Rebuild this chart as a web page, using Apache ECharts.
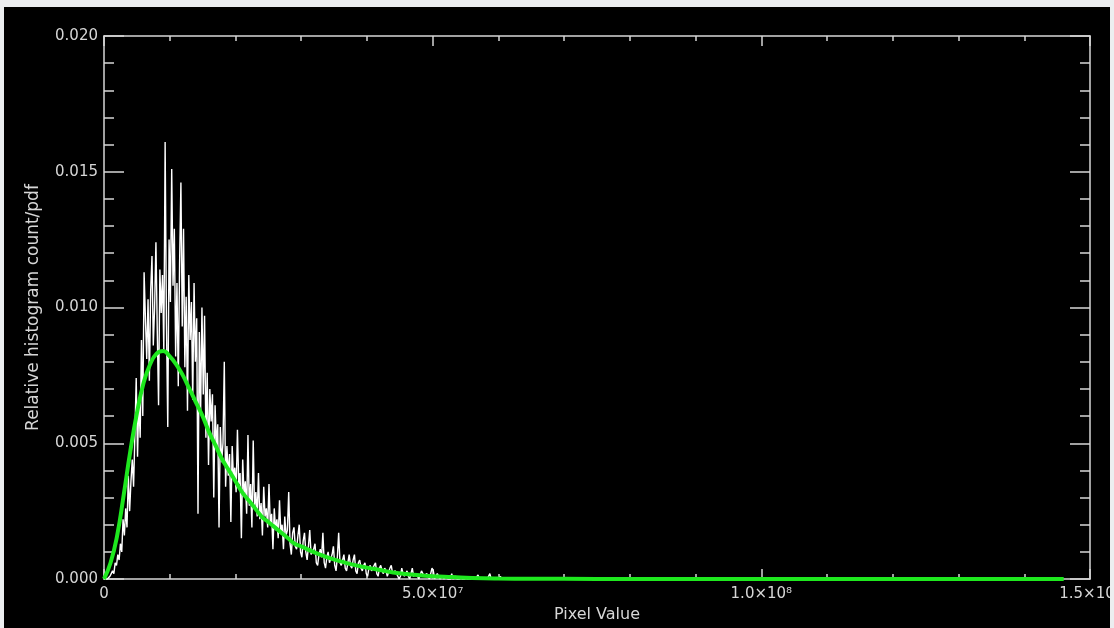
<!DOCTYPE html>
<html>
<head>
<meta charset="utf-8">
<title>Relative histogram / pdf</title>
<script src="https://cdn.jsdelivr.net/npm/echarts@6/dist/echarts.min.js"></script>
<style>
    html, body { margin: 0; padding: 0; background: #eceef0; }
    #chart { position: absolute; left: 4px; top: 7px; width: 1106px; height: 621px; background: #000; }
</style>
</head>
<body>
<div id="chart"></div>
<script>
/* ========== 数据 ========== */

// 直方图: 每个 bin 宽 2e5, 数值为相对计数
const binWidth = 2e5;
const histY = [
    0, 0, 0, 0.00005, 0.0001, 0.0002, 0.0003, 0.0002, 0.0006, 0.0005,
    0.0009, 0.0007, 0.0013, 0.0010, 0.0022, 0.0016, 0.0026, 0.0019, 0.0038, 0.0025,
    0.0036, 0.0044, 0.0034, 0.0053, 0.0074, 0.0045, 0.0066, 0.0052, 0.0088, 0.0060,
    0.0113, 0.0096, 0.0081, 0.0103, 0.0073, 0.0106, 0.0119, 0.0086, 0.0100, 0.0124,
    0.0092, 0.0064, 0.0114, 0.0098, 0.0112, 0.0084, 0.0161, 0.0094, 0.0056, 0.0125,
    0.0102, 0.0151, 0.0108, 0.0129, 0.0082, 0.0109, 0.0071, 0.0116, 0.0146, 0.0093,
    0.0129, 0.0078, 0.0104, 0.0062, 0.0112, 0.0088, 0.0102, 0.0066, 0.0109, 0.0080,
    0.0096, 0.0024, 0.0091, 0.0061, 0.0100, 0.0068, 0.0097, 0.0052, 0.0076, 0.0042,
    0.0070, 0.0058, 0.0068, 0.0030, 0.0064, 0.0049, 0.0057, 0.0019, 0.0056, 0.0043,
    0.0050, 0.0080, 0.0034, 0.0049, 0.0038, 0.0046, 0.0021, 0.0049, 0.0037, 0.0041,
    0.0032, 0.0055, 0.0035, 0.0039, 0.0015, 0.0044, 0.0031, 0.0036, 0.0024, 0.0053,
    0.0027, 0.0035, 0.0019, 0.0051, 0.0026, 0.0032, 0.0023, 0.0039, 0.0022, 0.0028,
    0.0016, 0.0034, 0.0023, 0.0026, 0.0019, 0.0035, 0.0020, 0.0024, 0.0011, 0.0026,
    0.0018, 0.0022, 0.0015, 0.0029, 0.0017, 0.0020, 0.0011, 0.0023, 0.0016, 0.0018,
    0.0032, 0.0013, 0.0009, 0.0017, 0.0019, 0.0012, 0.0011, 0.0016, 0.0020, 0.0010,
    0.0008, 0.0014, 0.0017, 0.0010, 0.0007, 0.0012, 0.0018, 0.0009, 0.0009, 0.0011,
    0.0013, 0.0006, 0.0005, 0.0009, 0.0011, 0.0008, 0.0017, 0.0006, 0.0004, 0.0008,
    0.0010, 0.0006, 0.0006, 0.0009, 0.0012, 0.0005, 0.0003, 0.0008, 0.0017, 0.0006,
    0.0005, 0.0007, 0.0009, 0.0004, 0.0003, 0.0006, 0.0009, 0.0005, 0.0004, 0.0007,
    0.0009, 0.0003, 0.0002, 0.0006, 0.0007, 0.0004, 0.0003, 0.0005, 0.0006, 0.0002,
    0.0001, 0.0004, 0.0005, 0.0003, 0.0003, 0.0005, 0.0006, 0.0002, 0.0001, 0.0004,
    0.0005, 0.0003, 0.0002, 0.0004, 0.0003, 0.0001, 0.0001, 0.0004, 0.0005, 0.0002,
    0.0002, 0.0003, 0.0002, 0.0001, 0, 0.0001, 0.0004, 0.0002, 0.0001, 0.0002,
    0.0003, 0.0001, 0, 0.0002, 0.0004, 0.0001, 0.0001, 0.0002, 0.0002, 0,
    0, 0.0003, 0.0002, 0.0001, 0.0001, 0.0002, 0.0001, 0, 0, 0.0004,
    0.0003, 0, 0, 0.0002, 0.0001, 0, 0, 0.0001, 0, 0,
    0.0001, 0, 0, 0, 0.0002, 0, 0, 0.0001, 0, 0,
    0, 0.0001, 0, 0, 0, 0.0001, 0, 0, 0, 0,
    0, 0, 0, 0, 0.00015, 0, 0, 0, 0, 0,
    0, 0, 0, 0.0002, 0, 0, 0, 0, 0, 0,
    0, 0.0001, 0, 0, 0, 0, 0, 0, 0, 0,
    0, 0, 0, 0, 0, 0, 0, 0, 0, 0
];

// 拟合的 pdf 曲线 (绿色)
const pdfX = [
    0, 1e6, 2e6, 3e6, 4e6, 5e6, 6e6, 7e6, 8e6, 9e6,
    10e6, 11e6, 12e6, 13e6, 14e6, 15e6, 16e6, 17e6, 18e6, 19e6,
    20e6, 21e6, 22e6, 23e6, 24e6, 25e6, 26e6, 27e6, 28e6, 29e6,
    30e6, 32e6, 34e6, 36e6, 38e6, 40e6, 42e6, 44e6, 46e6, 48e6,
    50e6, 53e6, 56e6, 60e6, 65e6, 70e6, 80e6, 100e6, 146e6
];
const pdfY = [
    0, 0.0006, 0.0016, 0.0031, 0.0047, 0.0061, 0.0072, 0.0079, 0.0083, 0.0084,
    0.0082, 0.0079, 0.0075, 0.0070, 0.0065, 0.0060, 0.0054, 0.0049, 0.0044, 0.0040,
    0.0036, 0.0032, 0.0029, 0.0026, 0.0023, 0.0021, 0.0019, 0.0017, 0.0015, 0.0013,
    0.0012, 0.00098, 0.00080, 0.00065, 0.00052, 0.00042, 0.00033, 0.00024, 0.00018, 0.00014,
    0.00010, 0.00007, 0.00004, 0.00002, 0.00001, 0.000005, 0, 0, 0
];

// 坐标轴刻度标签
const xTickValues = [0, 5e7, 1e8, 1.5e8];
const xTickLabels = ["0", "5.0×10⁷", "1.0×10⁸", "1.5×10⁸"];

/* ========== 图表 ========== */

const FG = "#d6d6d6";
const FONT = "DejaVu Sans";

const chart = echarts.init(document.getElementById("chart"));

const histData = histY.map((v, i) => [(i + 0.5) * binWidth, v]);
const pdfData = pdfX.map((x, i) => [x, pdfY[i]]);

// 主刻度 / 次刻度各用一根轴, 刻度全部朝内
function makeAxis(kind, pos, interval, tickLen, showLine) {
    const range = kind === "x" ? { min: 0, max: 1.5e8 } : { min: 0, max: 0.02 };
    return Object.assign({
        type: "value", position: pos, interval: interval,
        axisLine: { show: showLine, onZero: false, lineStyle: { color: FG, width: 1.5 } },
        axisTick: { show: true, inside: true, length: tickLen, lineStyle: { color: FG, width: 1.5 } },
        axisLabel: { show: false },
        splitLine: { show: false },
    }, range);
}

const xMain = makeAxis("x", "bottom", 5e7, 10, true);
Object.assign(xMain, {
    name: "Pixel Value",
    nameLocation: "middle",
    nameGap: 25,
    nameTextStyle: { color: FG, fontFamily: FONT, fontSize: 16 },
    axisLabel: {
        show: true, margin: 8, color: FG, fontFamily: FONT, fontSize: 15,
        showMinLabel: true, showMaxLabel: true,
        formatter: (v) => {
            const k = xTickValues.indexOf(v);
            return k >= 0 ? xTickLabels[k] : "";
        },
    },
});

const yMain = makeAxis("y", "left", 0.005, 20, true);
Object.assign(yMain, {
    name: "Relative histogram count/pdf",
    nameLocation: "middle",
    nameGap: 62,
    nameTextStyle: { color: FG, fontFamily: FONT, fontSize: 17 },
    axisLabel: {
        show: true, margin: 6, color: FG, fontFamily: FONT, fontSize: 15,
        formatter: (v) => v.toFixed(3),
    },
});

chart.setOption({
    backgroundColor: "#000",
    animation: false,
    grid: { left: 100, right: 20, top: 29, bottom: 49, outerBoundsMode: "none" },
    xAxis: [
        xMain,
        makeAxis("x", "bottom", 1e7, 5, false),
        makeAxis("x", "top", 5e7, 10, true),
        makeAxis("x", "top", 1e7, 5, false),
    ],
    yAxis: [
        yMain,
        makeAxis("y", "left", 0.001, 10, false),
        makeAxis("y", "right", 0.005, 20, true),
        makeAxis("y", "right", 0.001, 10, false),
    ],
    series: [
        {
            name: "histogram",
            type: "line",
            xAxisIndex: 0, yAxisIndex: 0,
            data: histData,
            showSymbol: false,
            lineStyle: { color: "#ffffff", width: 1.4 },
            z: 2,
        },
        {
            name: "pdf",
            type: "line",
            xAxisIndex: 0, yAxisIndex: 0,
            smooth: true,
            data: pdfData,
            showSymbol: false,
            lineStyle: { color: "#1ee81e", width: 4 },
            z: 3,
        },
    ],
});
</script>
</body>
</html>
